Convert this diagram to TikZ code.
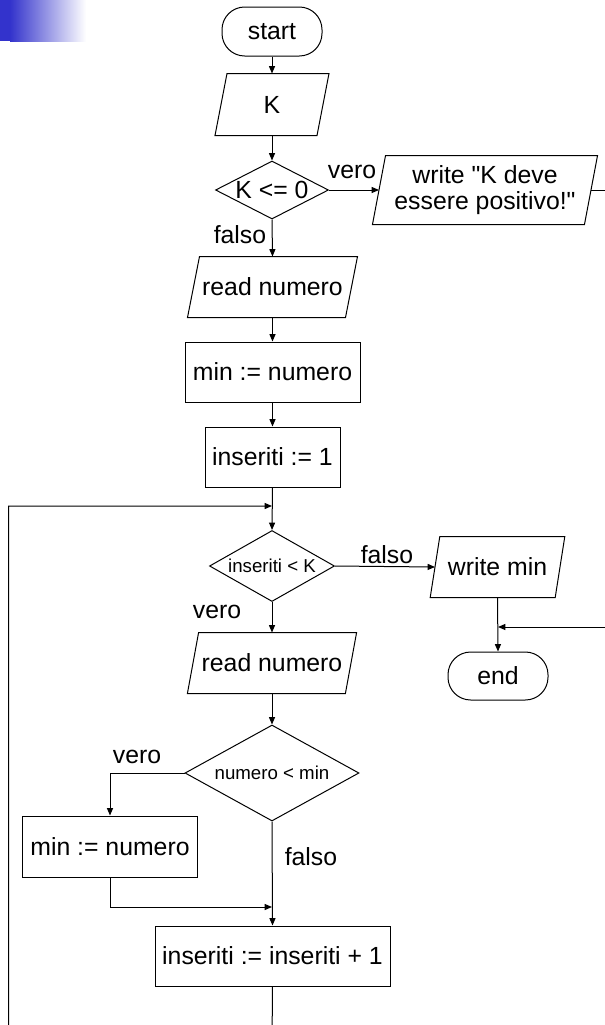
\documentclass[tikz,border=0pt]{standalone}
\usepackage{fontspec}
\setmainfont{Liberation Sans}
\usetikzlibrary{shapes.geometric,arrows.meta}
\definecolor{bandblue}{RGB}{51,51,204}
\newcommand\sq{\XeTeXglyph\XeTeXcharglyph"0022\relax}
\tikzset{
  base/.style={draw, line width=0.75pt, font=\fontsize{18.6}{19.5}\selectfont, inner sep=0pt, align=center},
  term/.style={base, rectangle, rounded corners=17pt},
  io/.style={base, rectangle, draw=none},
  proc/.style={base, rectangle},
  cond/.style={base, diamond},
  lbl/.style={font=\fontsize{18.6}{19.5}\selectfont, inner sep=0pt},
  conn/.style={line width=0.75pt, -{Triangle[length=5.5pt,width=4.5pt]}},
  plain/.style={line width=0.75pt}
}
\newcommand\ioframe[2]{\draw[plain] ([xshift=-#2]#1.south west) -- ([xshift=#2]#1.north west) -- ([xshift=#2]#1.north east) -- ([xshift=-#2]#1.south east) -- cycle;}
\begin{document}
\begin{tikzpicture}[x=0.75pt,y=-0.75pt]
\useasboundingbox (0,0) rectangle (605,1025);
\clip (0,0) rectangle (605,1025);
\fill[bandblue] (0,0) rectangle (11,41);
\shade[left color=bandblue, right color=white] (10,0) rectangle (86,41);

\node[term, minimum width=75pt, minimum height=36.75pt] (start) at (272,31.5) {start};
\node[io, minimum width=75.75pt, minimum height=45.75pt] (K) at (272,104.5) {K};
\node[cond, aspect=1.95, minimum width=84.75pt, minimum height=43.5pt] (d1) at (272,190) {K <= 0};
\node[io, minimum width=158.25pt, minimum height=51pt] (w1) at (485,190) {write \sq K deve\\essere positivo!\sq};
\node[lbl] (v1) at (352,172) {vero};
\node[lbl] (f1) at (240,235) {falso};
\node[io, minimum width=117.75pt, minimum height=45pt] (rn1) at (272.5,287) {read numero};
\node[proc, minimum width=131.25pt, minimum height=45pt] (m1) at (272.5,372) {min := numero};
\node[proc, minimum width=101.25pt, minimum height=45pt] (i1) at (272.5,457) {inseriti := 1};
\coordinate (lj) at (272,506);
\node[cond, aspect=1.76, minimum width=93.75pt, minimum height=53.25pt, font=\fontsize{14}{15}\selectfont] (d2) at (272,566) {inseriti < K};
\node[lbl] (f2) at (387,555) {falso};
\node[io, minimum width=93pt, minimum height=45pt] (wm) at (497.5,567) {write min};
\node[term, minimum width=75pt, minimum height=36pt] (end) at (498,676) {end};
\coordinate (ej) at (498,627);
\node[lbl] (v2) at (217,612) {vero};
\node[io, minimum width=117.75pt, minimum height=45pt] (rn2) at (272,663) {read numero};
\node[cond, aspect=1.81, minimum width=130.5pt, minimum height=72pt, font=\fontsize{14}{15}\selectfont] (d3) at (272,773) {numero < min};
\node[lbl] (v3) at (137,757) {vero};
\node[proc, minimum width=131.25pt, minimum height=45.75pt] (m2) at (110,846.5) {min := numero};
\node[lbl] (f3) at (311,857) {falso};
\coordinate (jn) at (272,907);
\node[proc, minimum width=176.25pt, minimum height=45pt] (inc) at (272.5,956) {inseriti := inseriti + 1};
\coordinate (rt) at (625,190);
\coordinate (bt) at (272,1045);
\coordinate (lf) at (8.5,1045);

\ioframe{K}{4.5pt}
\ioframe{w1}{4.9pt}
\ioframe{rn1}{4.5pt}
\ioframe{wm}{3.6pt}
\ioframe{rn2}{4.2pt}

\draw[conn] (start) -- (K);
\draw[conn] (K) -- (d1);
\draw[conn] (d1.east) -- (w1.west);
\draw[conn] (w1.east) -- (rt) |- (ej);
\draw[conn] (d1.south) -- (rn1.north);
\draw[conn] (rn1) -- (m1);
\draw[conn] (m1) -- (i1);
\draw[conn] (i1.south) -- (d2.north);
\draw[conn] (inc.south) -- (bt) -- (lf) |- (lj);
\draw[conn] (d2.east) -- (wm.west);
\draw[conn] (wm.south) -- (end.north);
\draw[conn] (d2.south) -- (rn2.north);
\draw[conn] (rn2.south) -- (d3.north);
\draw[conn] (d3.west) -| (m2.north);
\draw[conn] (m2.south) |- (jn);
\draw[conn] (d3.south) -- (inc.north);
\end{tikzpicture}
\end{document}
